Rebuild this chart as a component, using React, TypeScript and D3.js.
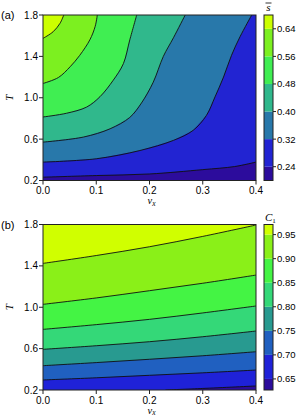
import React from "react";
import * as d3 from "d3";

const vxTicks = [0, 0.1, 0.2, 0.3, 0.4];
const tTicks = [0.2, 0.6, 1.0, 1.4, 1.8];

// panel (a): mean s
const sLevels = [0.2, 0.24, 0.32, 0.4, 0.48, 0.56, 0.64, 0.68];
const sTicks = [0.24, 0.32, 0.4, 0.48, 0.56, 0.64];
const sColors = ["#2c0c9c", "#2224d2", "#2878aa", "#30b88c", "#40ee52", "#7cf020", "#ccff00"];
const sLine024: [number, number][] = [[0, 0.232], [0.1, 0.248], [0.2, 0.263], [0.3, 0.305], [0.36, 0.335], [0.4, 0.378]];
const sLine032: [number, number][] = [[0, 0.378], [0.1, 0.41], [0.182, 0.49], [0.245, 0.588], [0.282, 0.685], [0.307, 0.83], [0.323, 1.008], [0.339, 1.2], [0.354, 1.41], [0.37, 1.59], [0.392, 1.8]];
const sLine040: [number, number][] = [[0, 0.571], [0.076, 0.62], [0.126, 0.7], [0.163, 0.81], [0.185, 0.95], [0.207, 1.15], [0.226, 1.4], [0.245, 1.58], [0.267, 1.8]];
const sLine048: [number, number][] = [[0, 0.814], [0.044, 0.85], [0.082, 0.91], [0.107, 1.01], [0.132, 1.17], [0.151, 1.33], [0.163, 1.56], [0.176, 1.8]];
const sLine056: [number, number][] = [[0, 1.138], [0.029, 1.196], [0.051, 1.3], [0.069, 1.41], [0.088, 1.56], [0.098, 1.69], [0.102, 1.8]];
const sLine064: [number, number][] = [[0, 1.574], [0.019, 1.638], [0.032, 1.72], [0.039, 1.8]];
const sLines = [sLine024, sLine032, sLine040, sLine048, sLine056, sLine064];

// panel (b): C1
const cLevels = [0.627, 0.65, 0.7, 0.75, 0.8, 0.85, 0.9, 0.95, 0.971];
const cTicks = [0.65, 0.7, 0.75, 0.8, 0.85, 0.9, 0.95];
const cColors = ["#2c0c9c", "#1f22d8", "#2060c0", "#289a90", "#34d878", "#44f444", "#8af018", "#d0ff00"];
const cLine065: [number, number][] = [[0.23, 0.2], [0.3, 0.215], [0.4, 0.239]];
const cLine070: [number, number][] = [[0, 0.297], [0.1, 0.318], [0.2, 0.342], [0.3, 0.366], [0.4, 0.393]];
const cLine075: [number, number][] = [[0, 0.435], [0.1, 0.465], [0.2, 0.497], [0.3, 0.531], [0.4, 0.57]];
const cLine080: [number, number][] = [[0, 0.593], [0.1, 0.628], [0.2, 0.667], [0.3, 0.715], [0.4, 0.77]];
const cLine085: [number, number][] = [[0, 0.786], [0.1, 0.832], [0.2, 0.883], [0.3, 0.945], [0.4, 1.012]];
const cLine090: [number, number][] = [[0, 1.028], [0.1, 1.09], [0.2, 1.16], [0.3, 1.232], [0.4, 1.311]];
const cLine095: [number, number][] = [[0, 1.424], [0.1, 1.5], [0.2, 1.585], [0.3, 1.685], [0.4, 1.795]];
const cLines = [cLine065, cLine070, cLine075, cLine080, cLine085, cLine090, cLine095];

const fmt1 = d3.format(".1f");
const fmt2 = d3.format(".2f");
const SANS = "'Liberation Sans', Arial, sans-serif";
const SERIF = "'Liberation Serif', 'DejaVu Serif', serif";

function Panel({ top, label, lines, levels, colors, ticks, cbTitle }: any) {
  const x0 = 43, x1 = 256, y0 = top, y1 = top + 165.5;
  const x = d3.scaleLinear().domain([0, 0.4]).range([x0, x1]);
  const y = d3.scaleLinear().domain([0.2, 1.8]).range([y1, y0]);
  const [xmin, xmax] = x.domain();
  const [ymin, ymax] = y.domain();
  const area = (pts: [number, number][]) => {
    const poly = pts.slice();
    const first = pts[0], last = pts[pts.length - 1];
    if (last[0] >= xmax) poly.push([xmax, ymax]);
    poly.push([xmin, ymax]);
    if (first[1] <= ymin && first[0] > xmin) poly.push([xmin, ymin]);
    return "M" + poly.map((p) => `${x(p[0])},${y(p[1])}`).join("L") + "Z";
  };
  const lineGen = d3.line<[number, number]>().x((d) => x(d[0])).y((d) => y(d[1])).curve(d3.curveCatmullRom);
  const cbx0 = 264, cbx1 = 273;
  const cb = d3.scaleLinear().domain([levels[0], levels[levels.length - 1]]).range([y1, y0]);
  const clipId = "clip" + Math.round(top);
  return (
    <g>
      <defs>
        <clipPath id={clipId}>
          <rect x={x0} y={y0} width={x1 - x0} height={y1 - y0} />
        </clipPath>
      </defs>
      <g clipPath={`url(#${clipId})`}>
        <rect x={x0} y={y0} width={x1 - x0} height={y1 - y0} fill={colors[0]} />
        {lines.map((l: [number, number][], i: number) => (
          <path key={"a" + i} d={area(l)} fill={colors[i + 1]} />
        ))}
        {lines.map((l: [number, number][], i: number) => (
          <path key={"l" + i} d={lineGen(l) as string} fill="none" stroke="#111" strokeWidth={0.9} />
        ))}
      </g>
      <rect x={x0} y={y0} width={x1 - x0} height={y1 - y0} fill="none" stroke="#222" strokeWidth={1} />
      {vxTicks.map((t) => (
        <g key={"x" + t}>
          <line x1={x(t)} x2={x(t)} y1={y1} y2={y1 + 4} stroke="#222" />
          <text x={x(t)} y={y1 + 13.5} fontSize={10} fontFamily={SANS} textAnchor="middle">{fmt1(t)}</text>
        </g>
      ))}
      {tTicks.map((t) => (
        <g key={"y" + t}>
          <line x1={x0 - 4} x2={x0} y1={y(t)} y2={y(t)} stroke="#222" />
          <text x={x0 - 5} y={y(t) + 3.5} fontSize={10} fontFamily={SANS} textAnchor="end">{fmt1(t)}</text>
        </g>
      ))}
      <text x={(x0 + x1) / 2 + 2} y={y1 + 23.5} fontSize={10.5} fontFamily={SERIF} fontStyle="italic" textAnchor="middle">
        v<tspan fontSize={7.5} dy={1.5}>x</tspan>
      </text>
      <text transform={`translate(13,${(y0 + y1) / 2}) rotate(-90)`} fontSize={11} fontFamily={SERIF} fontStyle="italic" textAnchor="middle">T</text>
      <text x={1} y={y0 + 4} fontSize={11} fontFamily={SANS}>{label}</text>
      {colors.map((c: string, i: number) => (
        <rect key={"cb" + i} x={cbx0} width={cbx1 - cbx0} y={cb(levels[i + 1])} height={cb(levels[i]) - cb(levels[i + 1])} fill={c} />
      ))}
      <rect x={cbx0} y={y0} width={cbx1 - cbx0} height={y1 - y0} fill="none" stroke="#222" strokeWidth={1} />
      {ticks.map((t: number) => (
        <g key={"c" + t}>
          <line x1={cbx1} x2={cbx1 + 3} y1={cb(t)} y2={cb(t)} stroke="#222" />
          <text x={cbx1 + 4} y={cb(t) + 3.5} fontSize={9.5} fontFamily={SANS}>{fmt2(t)}</text>
        </g>
      ))}
      {cbTitle}
    </g>
  );
}

export default function App() {
  return (
    <div style={{ position: "absolute", left: 0, top: 0 }}>
      <svg width={296} height={417} style={{ display: "block", background: "#fff" }}>
        <Panel
          top={15}
          label="(a)"
          lines={sLines}
          levels={sLevels}
          colors={sColors}
          ticks={sTicks}
          cbTitle={
            <g>
              <text x={268.5} y={11} fontSize={11} fontFamily={SERIF} fontStyle="italic" textAnchor="middle">s</text>
              <line x1={265.5} x2={271.5} y1={3} y2={3} stroke="#000" strokeWidth={0.8} />
            </g>
          }
        />
        <Panel
          top={224.5}
          label="(b)"
          lines={cLines}
          levels={cLevels}
          colors={cColors}
          ticks={cTicks}
          cbTitle={
            <text x={265} y={221} fontSize={11} fontFamily={SERIF} fontStyle="italic">
              C<tspan fontSize={7} dy={2} fontStyle="normal">1</tspan>
            </text>
          }
        />
      </svg>
    </div>
  );
}
